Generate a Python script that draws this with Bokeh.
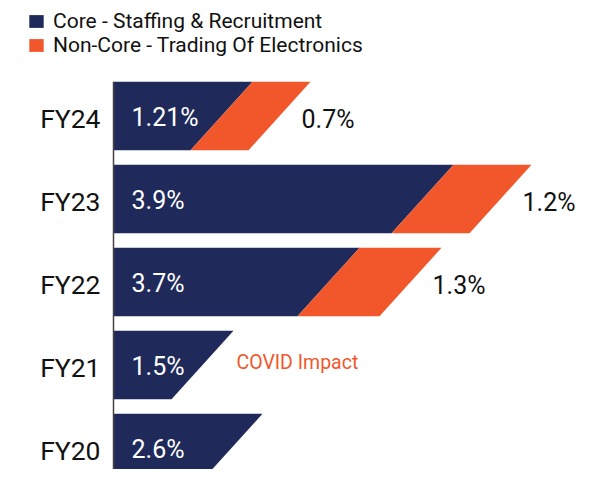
from bokeh.plotting import figure
from bokeh.models import ColumnDataSource, Range1d, Legend, LegendItem
from bokeh.core.properties import value
from bokeh.embed import file_html
from bokeh.resources import INLINE

# ---- data (bottom to top) ----
years = ["FY20", "FY21", "FY22", "FY23", "FY24"]
core_labels = ["2.6%", "1.5%", "3.7%", "3.9%", "1.21%"]
noncore_labels = ["", "", "1.3%", "1.2%", "0.7%"]
# drawn bar extents (arbitrary display units)
core_extent = [14.9, 12.0, 24.6, 34.0, 13.9]
noncore_extent = [0.0, 0.0, 8.2, 7.8, 5.8]
note_text = "COVID Impact"
note_year = "FY21"

NAVY = "#1F2A5B"
ORANGE = "#F1572A"
FONT = "Roboto"

SLANT = 6.2      # horizontal shift of the slanted edge (display units)
HALF = 0.412     # half bar height (category units)

ypos = list(range(len(years)))

core_xs, core_ys, nc_xs, nc_ys = [], [], [], []
for y, c, n in zip(ypos, core_extent, noncore_extent):
    top, bot = y + HALF, y - HALF
    core_xs.append([0, c, c - SLANT, 0])
    core_ys.append([top, top, bot, bot])
    if n > 0:
        nc_xs.append([c, c + n, c + n - SLANT, c - SLANT])
        nc_ys.append([top, top, bot, bot])

Y0, Y1 = -0.259, 5.3916
p = figure(width=600, height=469, output_backend="svg", toolbar_location=None,
           x_range=Range1d(-11.3, 48.7), y_range=Range1d(Y0, Y1),
           x_axis_type=None, y_axis_type=None, min_border=0)
p.outline_line_color = None
p.grid.visible = False
p.background_fill_color = "white"

r_core = p.patches(core_xs, core_ys, fill_color=NAVY, line_color=None)
r_nc = p.patches(nc_xs, nc_ys, fill_color=ORANGE, line_color=None)

# category axis: line + labels
p.segment(x0=[0], y0=[max(ypos) + HALF], x1=[0], y1=[Y0], line_color="#444444", line_width=1.5)
p.text(x=[0] * len(years), y=ypos, text=years, text_color="#111111", text_font=value(FONT),
       text_font_size="26.5px", text_baseline="middle", text_align="right",
       x_offset=-13, y_offset=2)

# inside labels
src_in = ColumnDataSource(dict(x=[1.8] * len(years), y=ypos, t=core_labels))
p.text("x", "y", "t", source=src_in, text_color="white", text_font=value(FONT),
       text_font_size="25px", text_baseline="middle", text_align="left", y_offset=1)

# outside (non-core) labels
nx, ny, nt = [], [], []
for y, c, n, t in zip(ypos, core_extent, noncore_extent, noncore_labels):
    if t:
        nx.append(c + n)
        ny.append(y)
        nt.append(t)
src_out = ColumnDataSource(dict(x=nx, y=ny, t=nt))
p.text("x", "y", "t", source=src_out, text_color="#111111", text_font=value(FONT),
       text_font_size="25px", text_baseline="middle", text_align="left",
       x_offset=-9, y_offset=3)

# note
ni = years.index(note_year)
p.text(x=[core_extent[ni] + 0.3], y=[ypos[ni]], text=[note_text], text_color=ORANGE,
       text_font=value(FONT), text_font_size="19.5px", text_baseline="middle",
       text_align="left", y_offset=-3)

legend = Legend(items=[LegendItem(label="Core - Staffing & Recruitment", renderers=[r_core]),
                       LegendItem(label="Non-Core - Trading Of Electronics", renderers=[r_nc])],
                location=(27, 412), orientation="vertical", margin=0, padding=0,
                spacing=0, glyph_width=18, glyph_height=16, label_height=20,
                label_standoff=8, label_text_font=FONT, label_text_font_size="21px",
                label_text_color="#111111", border_line_color=None,
                background_fill_alpha=0)
p.add_layout(legend, "center")

open("out.html", "w").write(file_html(p, INLINE))
